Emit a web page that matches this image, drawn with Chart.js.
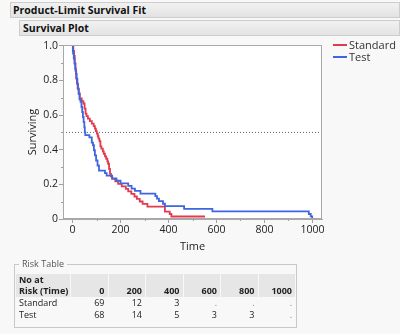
<!DOCTYPE html>
<html>
<head>
<meta charset="utf-8">
<script src="https://cdn.jsdelivr.net/npm/chart.js@4.4.1/dist/chart.umd.min.js"></script>
<style>
html, body { margin: 0; padding: 0; }
body { width: 400px; height: 334px; background: #f8f8f8; position: relative; overflow: hidden;
  font-family: "Open Sans", "Noto Sans", sans-serif; color: #222; }
.bar { position: absolute; box-sizing: border-box; background: linear-gradient(#f1f1f1, #e3e3e3);
  border: 1px solid #cdcdcd; font-weight: bold; font-size: 10.5px; line-height: 14px; padding-left: 2px; color: #111; }
#plot { position: absolute; left: 0; top: 36px; }
.leg { position: absolute; left: 333px; font-size: 11px; line-height: 12px; color: #333; white-space: nowrap; }
.leg i { display: inline-block; width: 14px; height: 0; border-top: 2px solid; vertical-align: middle; margin-right: 2px; position: relative; top: -1px; }
#risk { position: absolute; left: 14px; top: 264px; width: 283px; height: 64px; box-sizing: border-box; border: 1px solid #c8c8c8; }
#risk .cap { position: absolute; left: 4px; top: -7px; background: #f8f8f8; padding: 0 3px; font-size: 9px; line-height: 12px; color: #555; }
#grid { position: absolute; left: 1px; top: 9px; display: grid; grid-template-columns: 54px repeat(6, 36.5px); column-gap: 1px; font-size: 9px; }
#grid div { box-sizing: border-box; padding: 0 3px; text-align: right; white-space: nowrap; }
#grid .h { background: #e6e6e6; font-weight: bold; height: 23px; line-height: 11px; padding-top: 1px; display: flex; align-items: flex-end; justify-content: flex-end; padding-bottom: 1px; }
#grid .h.first { justify-content: flex-start; text-align: left; }
#grid .r { height: 12px; line-height: 12px; }
#grid .r.first { text-align: left; }
#grid .dot { color: #888; }
</style>
</head>
<body>
<div class="bar" style="left:10px;top:2px;width:390px;height:16px">Product-Limit Survival Fit</div>
<div class="bar" style="left:19px;top:20px;width:381px;height:16px;padding-left:3px">Survival Plot</div>
<canvas id="plot" width="340" height="226"></canvas>
<div class="leg" style="top:39px"><i style="border-color:#e23a4e"></i>Standard</div>
<div class="leg" style="top:51px"><i style="border-color:#3d66e0"></i>Test</div>
<div id="risk"><span class="cap">Risk Table</span><div id="grid"></div></div>
<script>
// Kaplan-Meier steps: time of each drop, survival after it
const stdTime = [0, 3, 6, 9, 12, 15, 18, 21, 25, 30, 38, 45, 50, 54, 58, 64, 72, 80, 88, 93, 97, 101, 105, 108, 112, 116, 120, 126, 130, 135, 140, 145, 148, 152, 156, 160, 165, 178, 190, 205, 222, 232, 245, 258, 268, 280, 292, 312, 385, 405, 412, 552];
const stdSurv = [1.0, 0.971, 0.942, 0.899, 0.855, 0.812, 0.783, 0.754, 0.725, 0.696, 0.681, 0.667, 0.638, 0.609, 0.594, 0.580, 0.565, 0.551, 0.536, 0.522, 0.507, 0.493, 0.478, 0.464, 0.449, 0.420, 0.406, 0.391, 0.377, 0.362, 0.348, 0.333, 0.319, 0.290, 0.261, 0.246, 0.232, 0.217, 0.203, 0.188, 0.174, 0.159, 0.145, 0.130, 0.116, 0.101, 0.087, 0.072, 0.043, 0.029, 0.0145, 0.0145];

const testTime = [0, 1, 2, 5, 8, 11, 14, 17, 20, 23, 26, 29, 33, 37, 40, 43, 46, 49, 51, 53, 70, 80, 85, 89, 93, 98, 104, 110, 135, 142, 165, 183, 200, 232, 246, 260, 283, 345, 352, 360, 377, 385, 465, 583, 985, 993, 999];
const testSurv = [1.0, 0.971, 0.956, 0.926, 0.897, 0.868, 0.838, 0.809, 0.779, 0.750, 0.721, 0.691, 0.676, 0.647, 0.618, 0.588, 0.559, 0.529, 0.500, 0.485, 0.471, 0.441, 0.426, 0.397, 0.368, 0.338, 0.309, 0.279, 0.265, 0.250, 0.235, 0.221, 0.206, 0.191, 0.176, 0.162, 0.147, 0.132, 0.118, 0.103, 0.088, 0.074, 0.059, 0.044, 0.029, 0.015, 0];

const medianLevel = 0.5;
const xRange = [-40, 1040];
const yRange = [0, 1.005];
const xTickValues = [0, 200, 400, 600, 800, 1000];
const xMinorTicks = [100, 300, 500, 700, 900];
const yTickValues = [0, 0.2, 0.4, 0.6, 0.8, 1.0];
const yMinorTicks = [0.1, 0.3, 0.5, 0.7, 0.9];

const riskTimes = [0, 200, 400, 600, 800, 1000];
const riskStandard = [69, 12, 3, '.', '.', '.'];
const riskTest = [68, 14, 5, 3, 3, '.'];

const RED = '#e23a4e', BLUE = '#3d66e0';

// risk table
const grid = document.getElementById('grid');
function cell(txt, cls) {
  const d = document.createElement('div');
  d.className = cls;
  if (txt === '.') d.classList.add('dot');
  d.innerHTML = txt;
  grid.appendChild(d);
}
cell('No at<br>Risk (Time)', 'h first');
riskTimes.forEach(t => cell(String(t), 'h'));
cell('Standard', 'r first');
riskStandard.forEach(v => cell(String(v), 'r'));
cell('Test', 'r first');
riskTest.forEach(v => cell(String(v), 'r'));

// chart
Chart.defaults.font.family = '"Open Sans", "Noto Sans", sans-serif';
Chart.defaults.font.size = 10.5;
Chart.defaults.color = '#222';

const toPoints = (t, s) => t.map((v, i) => ({ x: v, y: s[i] }));

const framePlugin = {
  id: 'frame',
  beforeDraw(chart) {
    const { ctx, chartArea: a } = chart;
    ctx.save();
    ctx.fillStyle = '#ffffff';
    ctx.fillRect(a.left, a.top, a.right - a.left, a.bottom - a.top);
    ctx.restore();
  },
  afterDraw(chart) {
    const { ctx, chartArea: a, scales: { x, y } } = chart;
    ctx.save();
    ctx.strokeStyle = '#a8a8a8';
    ctx.lineWidth = 1;
    ctx.strokeRect(Math.round(a.left) + 0.5, Math.round(a.top) + 0.5,
      Math.round(a.right - a.left) - 1, Math.round(a.bottom - a.top) - 1);
    ctx.strokeStyle = '#a0a0a0';
    ctx.beginPath();
    xMinorTicks.forEach(v => {
      const px = Math.round(x.getPixelForValue(v)) + 0.5;
      ctx.moveTo(px, a.bottom); ctx.lineTo(px, a.bottom + 2);
    });
    yMinorTicks.forEach(v => {
      const py = Math.round(y.getPixelForValue(v)) + 0.5;
      ctx.moveTo(a.left, py); ctx.lineTo(a.left - 2, py);
    });
    ctx.stroke();
    ctx.restore();
  }
};

new Chart(document.getElementById('plot'), {
  type: 'line',
  data: {
    datasets: [
      { label: 'Test', data: toPoints(testTime, testSurv), borderColor: BLUE, borderWidth: 1.8,
        stepped: true, pointRadius: 0, fill: false },
      { label: 'Standard', data: toPoints(stdTime, stdSurv), borderColor: RED, borderWidth: 1.8,
        stepped: true, pointRadius: 0, fill: false },
      { label: 'median', data: [{ x: xRange[0], y: medianLevel }, { x: xRange[1], y: medianLevel }],
        borderColor: '#666', borderWidth: 1, borderDash: [1, 2], pointRadius: 0, fill: false }
    ]
  },
  options: {
    responsive: false,
    animation: false,
    devicePixelRatio: 1,
    layout: { padding: { top: 9, right: 18, left: 0, bottom: 0 } },
    plugins: { legend: { display: false }, tooltip: { enabled: false } },
    scales: {
      x: {
        type: 'linear', min: xRange[0], max: xRange[1],
        afterBuildTicks: s => { s.ticks = xTickValues.map(v => ({ value: v })); },
        afterFit: s => { s.height = 43; },
        ticks: { padding: 1, maxRotation: 0, callback: v => String(v) },
        grid: { drawOnChartArea: false, tickLength: 4, tickColor: '#a0a0a0' },
        border: { color: '#a8a8a8' },
        title: { display: true, text: 'Time', font: { size: 11 }, padding: { top: 0, bottom: 9 } }
      },
      y: {
        type: 'linear', min: yRange[0], max: yRange[1],
        afterBuildTicks: s => { s.ticks = yTickValues.map(v => ({ value: v })); },
        afterFit: s => { s.width = 63; },
        ticks: { padding: 1, callback: v => v === 0 ? '0' : v.toFixed(1) },
        grid: { drawOnChartArea: false, tickLength: 4, tickColor: '#a0a0a0' },
        border: { color: '#a8a8a8' },
        title: { display: true, text: 'Surviving', font: { size: 11 }, padding: { top: 26, bottom: 0 } }
      }
    }
  },
  plugins: [framePlugin]
});
</script>
</body>
</html>
